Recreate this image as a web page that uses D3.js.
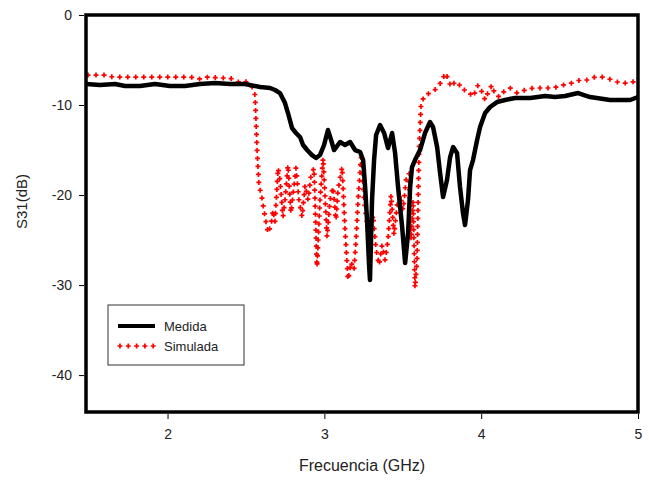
<!DOCTYPE html>
<html><head><meta charset="utf-8">
<script src="https://cdn.jsdelivr.net/npm/d3@7/dist/d3.min.js"></script>
<style>body{margin:0;background:#fff}svg{display:block}text{font-family:"Liberation Sans",Arial,sans-serif}</style>
</head><body>
<svg id="c" width="649" height="481"></svg>
<script>
const xTicks = [2, 3, 4, 5];
const yTicks = [0, -10, -20, -30, -40];
const medidaX = [1.480,1.569,1.665,1.729,1.824,1.920,2.016,2.111,2.207,2.303,2.398,2.494,2.590,2.654,2.685,2.717,2.749,2.768,2.794,2.819,2.845,2.864,2.890,2.921,2.947,2.972,2.998,3.023,3.043,3.062,3.100,3.132,3.164,3.196,3.228,3.247,3.260,3.272,3.285,3.291,3.304,3.317,3.330,3.355,3.381,3.406,3.432,3.451,3.470,3.496,3.515,3.534,3.547,3.559,3.578,3.610,3.642,3.674,3.693,3.719,3.738,3.757,3.782,3.802,3.821,3.846,3.865,3.884,3.897,3.916,3.929,3.948,3.974,3.993,4.025,4.057,4.101,4.152,4.216,4.312,4.408,4.471,4.535,4.618,4.694,4.822,4.950,5.0];
const medidaY = [-7.67,-7.78,-7.67,-7.89,-7.89,-7.67,-7.89,-7.89,-7.67,-7.56,-7.67,-7.67,-8.0,-8.11,-8.33,-8.67,-9.78,-10.89,-12.56,-13.11,-13.56,-14.44,-15.0,-15.56,-15.89,-15.56,-14.44,-12.78,-13.89,-15.0,-14.11,-14.44,-14.11,-15.0,-15.22,-16.11,-19.11,-22.78,-27.78,-29.44,-20.56,-16.11,-13.33,-12.22,-13.11,-14.78,-13.11,-15.33,-19.11,-23.56,-27.56,-24.22,-19.11,-16.89,-16.11,-15.0,-13.11,-11.89,-12.44,-14.67,-17.56,-20.22,-18.33,-15.78,-14.67,-15.33,-19.11,-22.0,-23.33,-20.56,-17.22,-16.11,-13.89,-12.44,-10.89,-10.22,-9.67,-9.44,-9.22,-9.22,-9.0,-9.11,-9.0,-8.67,-9.11,-9.44,-9.44,-9.11];
const simX = [1.480,1.550,1.601,1.652,1.824,2.060,2.143,2.207,2.258,2.335,2.398,2.449,2.494,2.539,2.558,2.571,2.583,2.602,2.622,2.641,2.660,2.673,2.685,2.705,2.717,2.736,2.749,2.768,2.787,2.800,2.819,2.838,2.858,2.877,2.896,2.915,2.934,2.953,2.972,2.992,3.017,3.036,3.055,3.074,3.087,3.113,3.132,3.151,3.170,3.189,3.202,3.215,3.234,3.253,3.272,3.291,3.310,3.330,3.349,3.368,3.387,3.406,3.425,3.444,3.464,3.483,3.502,3.521,3.540,3.553,3.566,3.578,3.591,3.604,3.617,3.642,3.674,3.705,3.725,3.750,3.769,3.788,3.807,3.833,3.852,3.878,3.909,3.948,3.980,4.006,4.025,4.050,4.069,4.089,4.121,4.152,4.184,4.229,4.280,4.331,4.388,4.439,4.484,4.522,4.580,4.631,4.675,4.726,4.777,4.835,4.886,4.937,4.989];
const simY = [-6.67,-6.67,-6.67,-6.89,-6.89,-6.89,-6.89,-7.11,-6.89,-7.0,-7.0,-7.44,-7.33,-8.0,-8.89,-15.0,-18.89,-20.33,-22.44,-24.22,-23.33,-21.67,-23.0,-17.0,-18.33,-22.44,-20.56,-16.67,-22.0,-20.0,-17.0,-20.56,-22.44,-18.89,-20.56,-17.78,-17.0,-28.0,-20.56,-15.89,-24.67,-20.56,-19.11,-22.78,-19.44,-16.89,-23.89,-29.44,-27.44,-28.33,-25.0,-20.56,-15.78,-20.56,-23.11,-24.44,-22.22,-26.11,-27.78,-25.56,-27.22,-25.0,-20.0,-24.44,-21.11,-20.0,-21.67,-18.33,-17.56,-25.0,-20.56,-30.33,-27.22,-15.0,-9.78,-8.89,-8.67,-8.33,-7.78,-7.44,-6.44,-7.0,-8.0,-7.44,-7.44,-8.33,-8.33,-9.11,-7.78,-8.56,-9.44,-8.33,-7.78,-8.89,-9.11,-8.33,-8.11,-8.67,-8.33,-8.11,-8.11,-8.11,-8.0,-7.78,-7.56,-7.22,-7.22,-6.89,-6.89,-7.22,-7.56,-7.56,-7.33];
const seriesNames = ["Medida", "Simulada"];

const svg = d3.select("#c");
const L = 86, R = 638, T = 15, B = 412;
const x = d3.scaleLinear().domain([1.48, 5]).range([L, R]);
const y = d3.scaleLinear().domain([-44.1, 0]).range([B, T]);

const medida = medidaX.map((v, i) => [v, medidaY[i]]);
const sim = simX.map((v, i) => [v, simY[i]]);
const line = d3.line().x(d => x(d[0])).y(d => y(d[1]));

const g = svg.append("g");
const simPath = g.append("path").attr("d", line(sim)).attr("fill", "none").attr("stroke", "none");
const node = simPath.node();
const total = node.getTotalLength();
const step = 8;
const crossPts = [];
for (let s = 2; s <= total; s += step) crossPts.push(node.getPointAtLength(s));
function cross(sel, pts) {
  sel.selectAll(null).data(pts).enter().append("path")
    .attr("d", p => `M${p.x-2.5},${p.y}h5M${p.x},${p.y-2.5}v5`)
    .attr("stroke", "#ff0000").attr("stroke-width", 1.7).attr("fill", "none");
}
cross(g, crossPts);

g.append("path").attr("d", line(medida)).attr("fill", "none")
  .attr("stroke", "#000").attr("stroke-width", 4.5).attr("stroke-linejoin", "round");

const xAxis = d3.axisBottom(x).tickValues(xTicks).tickFormat(d3.format("d")).tickSize(5).tickPadding(12);
const yAxis = d3.axisLeft(y).tickValues(yTicks).tickFormat(d => d).tickSize(5).tickPadding(9);
const gx = svg.append("g").attr("transform", `translate(0,${B})`).call(xAxis);
const gy = svg.append("g").attr("transform", `translate(${L},0)`).call(yAxis);
[gx, gy].forEach(a => {
  a.select(".domain").remove();
  a.selectAll(".tick line").attr("stroke", "#000").attr("stroke-width", 1);
  a.selectAll(".tick text").attr("fill", "#222").style("font-size", "14px");
});
gx.selectAll(".tick line").attr("transform", "translate(0,2)");
gy.selectAll(".tick line").attr("transform", "translate(-2,0)");

svg.append("rect").attr("x", L).attr("y", T).attr("width", R - L).attr("height", B - T)
  .attr("fill", "none").attr("stroke", "#000").attr("stroke-width", 3.5);

svg.append("text").attr("x", (L + R) / 2).attr("y", 471).attr("text-anchor", "middle")
  .style("font-size", "16px").attr("fill", "#222").text("Frecuencia (GHz)");
svg.append("text").attr("transform", `translate(27,${(T + B) / 2 - 12}) rotate(-90)`)
  .attr("text-anchor", "middle").style("font-size", "15px").attr("fill", "#222").text("S31(dB)");

const lg = svg.append("g");
lg.append("rect").attr("x", 108).attr("y", 305).attr("width", 136).attr("height", 60)
  .attr("fill", "#fff").attr("stroke", "#333").attr("stroke-width", 1);
lg.append("line").attr("x1", 118).attr("x2", 155).attr("y1", 326).attr("y2", 326)
  .attr("stroke", "#000").attr("stroke-width", 4);
cross(lg, d3.range(5).map(i => ({x: 120 + i * 8.3, y: 346})));
lg.append("text").attr("x", 164).attr("y", 331).style("font-size", "13px").attr("fill", "#222").text(seriesNames[0]);
lg.append("text").attr("x", 164).attr("y", 351).style("font-size", "13px").attr("fill", "#222").text(seriesNames[1]);
</script>
</body></html>
